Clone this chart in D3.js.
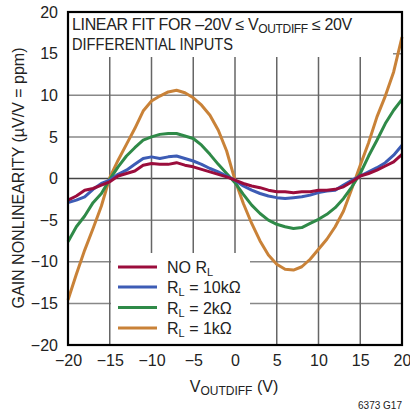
<!DOCTYPE html>
<html><head><meta charset="utf-8">
<script src="https://cdn.jsdelivr.net/npm/d3@7"></script>
<style>
html,body{margin:0;padding:0;background:#fff;}
svg{display:block;font-family:"Liberation Sans",Arial,sans-serif;}
</style></head>
<body><svg id="c" width="410" height="414"></svg>
<script>
const xValues = d3.range(-20, 21, 1);
const noRL   = [-2.6,-2.1,-1.4,-1.2,-0.8,-0.4,0.3,0.6,0.9,1.6,1.8,1.7,1.7,1.9,1.6,1.4,1.1,0.8,0.5,0.2,-0.2,-0.6,-0.9,-1.1,-1.4,-1.6,-1.6,-1.7,-1.6,-1.6,-1.4,-1.4,-1.3,-1.0,-0.4,0.3,0.6,1.0,1.5,2.0,2.9];
const rl10k  = [-2.9,-2.6,-2.2,-1.3,-0.6,-0.2,0.5,1.0,1.7,2.4,2.6,2.4,2.6,2.7,2.4,2.1,1.7,1.2,0.8,0.3,-0.2,-0.9,-1.4,-1.8,-2.1,-2.3,-2.4,-2.3,-2.2,-2.0,-1.7,-1.5,-1.4,-0.8,-0.2,0.3,0.8,1.3,1.9,2.8,4.0];
const rl2k   = [-7.6,-5.8,-4.5,-2.9,-1.8,-0.1,1.4,2.7,3.7,4.6,5.0,5.3,5.4,5.4,5.1,4.8,4.0,2.9,1.7,0.6,-0.5,-1.9,-3.2,-4.2,-5.0,-5.5,-5.8,-6.0,-5.9,-5.4,-4.9,-4.3,-3.5,-2.4,-1.0,0.6,2.7,4.6,6.6,8.2,9.5];
const rl1k   = [-14.6,-11.5,-8.6,-6.0,-3.3,0.1,2.2,4.1,6.0,8.1,9.3,9.9,10.4,10.6,10.3,9.7,8.8,7.6,5.8,3.3,-0.2,-3.0,-5.4,-7.5,-9.2,-10.3,-10.9,-11.0,-10.6,-9.7,-8.5,-7.3,-5.8,-3.9,-1.2,1.6,4.3,7.4,9.9,12.8,17.0];
const seriesNames = ["NO R", "R = 10kΩ", "R = 2kΩ", "R = 1kΩ"];
const seriesColors = ["#9b0d3c", "#3d5cb5", "#2f8a48", "#c98238"];
const xTicks = [-20,-15,-10,-5,0,5,10,15,20];
const yTicks = [-20,-15,-10,-5,0,5,10,15,20];

const svg = d3.select("#c");
const L = 68, R = 402, T = 12, B = 345;
const x = d3.scaleLinear().domain([-20,20]).range([L,R]);
const y = d3.scaleLinear().domain([-20,20]).range([B,T]);

// grid
svg.append("g").selectAll("line").data(yTicks.slice(1,-1)).join("line")
  .attr("x1",L).attr("x2",R).attr("y1",d=>y(d)).attr("y2",d=>y(d))
  .attr("stroke",d=>d===0?"#444":"#888").attr("stroke-width",1.5);
svg.append("g").selectAll("line").data(xTicks.slice(1,-1)).join("line")
  .attr("y1",T).attr("y2",B).attr("x1",d=>x(d)).attr("x2",d=>x(d))
  .attr("stroke","#666").attr("stroke-width",1.5);

// text box background
svg.append("rect").attr("x",L).attr("y",T).attr("width",393-L).attr("height",57-T).attr("fill","#fff");
// legend box background
svg.append("rect").attr("x",111).attr("y",253).attr("width",250-111).attr("height",B-253).attr("fill","#fff");

// series
const all = [noRL, rl10k, rl2k, rl1k];
const line = d3.line().x((d,i)=>x(xValues[i])).y(d=>y(d));
const order = [3,2,1,0];
order.forEach(k=>{
  svg.append("path").datum(all[k]).attr("d",line).attr("fill","none")
    .attr("stroke",seriesColors[k]).attr("stroke-width",3).attr("stroke-linejoin","round");
});

// frame
svg.append("rect").attr("x",L).attr("y",T).attr("width",R-L).attr("height",B-T)
  .attr("fill","none").attr("stroke","#000").attr("stroke-width",2.2);

// axes labels
const yAxis = d3.axisLeft(y).tickValues(yTicks).tickSize(0).tickPadding(10)
  .tickFormat(d=>d<0?"\u2212"+Math.abs(d):d);
const ga = svg.append("g").attr("transform",`translate(${L},0)`).call(yAxis);
ga.select(".domain").remove();
ga.selectAll("text").attr("font-size",16).attr("font-family","Liberation Sans").attr("fill","#222");

const xAxis = d3.axisBottom(x).tickValues(xTicks).tickSize(0).tickPadding(10)
  .tickFormat(d=>d<0?"\u2212"+Math.abs(d):d);
const gx = svg.append("g").attr("transform",`translate(0,${B})`).call(xAxis);
gx.select(".domain").remove();
gx.selectAll("text").attr("font-size",16).attr("font-family","Liberation Sans").attr("fill","#222");

// title
const t1 = svg.append("text").attr("x",72).attr("y",30).attr("font-size",16).attr("fill","#222").attr("letter-spacing",-0.35);
t1.append("tspan").text("LINEAR FIT FOR \u201320V \u2264 V");
t1.append("tspan").attr("font-size",12).attr("dy",3).text("OUTDIFF");
t1.append("tspan").attr("dy",-3).text(" \u2264 20V");
svg.append("text").attr("x",72).attr("y",50).attr("font-size",16).attr("fill","#222")
  .attr("textLength",161).attr("lengthAdjust","spacingAndGlyphs").text("DIFFERENTIAL INPUTS");

// x title
const xt = svg.append("text").attr("x",234).attr("y",392).attr("text-anchor","middle").attr("font-size",16).attr("fill","#222");
xt.append("tspan").text("V");
xt.append("tspan").attr("font-size",12).attr("dy",3).text("OUTDIFF");
xt.append("tspan").attr("dy",-3).text(" (V)");

// y title
svg.append("text").attr("transform","translate(24,178) rotate(-90)").attr("text-anchor","middle")
  .attr("font-size",16).attr("fill","#222").text("GAIN NONLINEARITY (\u00B5V/V = ppm)");

// legend
const legY = [267, 287, 307.5, 328];
seriesNames.forEach((n,i)=>{
  svg.append("line").attr("x1",118).attr("x2",157).attr("y1",legY[i]).attr("y2",legY[i])
    .attr("stroke",seriesColors[i]).attr("stroke-width",3);
  const t = svg.append("text").attr("x",167).attr("y",legY[i]+6).attr("font-size",16).attr("fill","#222");
  if(i===0){
    t.append("tspan").text("NO R");
    t.append("tspan").attr("font-size",11).attr("dy",3).text("L");
  } else {
    t.append("tspan").text("R");
    t.append("tspan").attr("font-size",11).attr("dy",3).text("L");
    t.append("tspan").attr("dy",-3).text(n.slice(1));
  }
});

svg.append("text").attr("x",402).attr("y",409).attr("text-anchor","end").attr("font-size",10).attr("fill","#222").text("6373 G17");
</script></body></html>
